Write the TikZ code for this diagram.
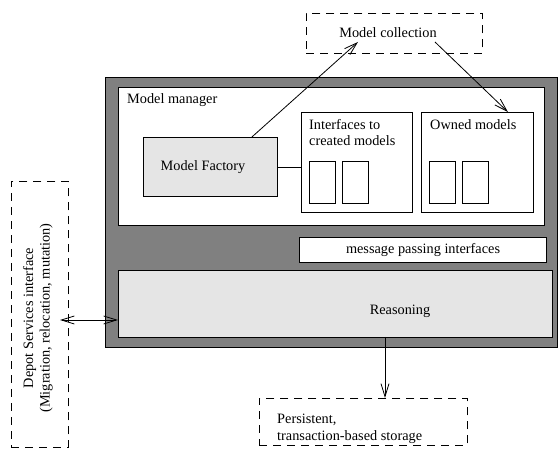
\documentclass[tikz,border=0pt]{standalone}
\usepackage{fontspec}
\setmainfont{Liberation Serif}
\usetikzlibrary{arrows.meta}
\definecolor{lightfill}{RGB}{229,229,229}

\begin{document}
\begin{tikzpicture}[x = 1pt, y = -1pt,
		font = \fontsize{14.3pt}{16.5pt}\selectfont,
		box/.style = {draw, line width = 1.1pt, inner sep = 0pt, anchor = north west},
		dashbox/.style = {draw, line width = 0.9pt, dash pattern = on 8pt off 6pt, inner sep = 0pt, anchor = north west},
		tag/.style = {anchor = north west, inner sep = 0pt, align = left},
		link/.style = {line width = 0.8pt, -{Straight Barb[length = 13pt, width = 8pt]}}]
		\useasboundingbox (0,0) rectangle (558,449);
		% model manager and its parts
		\node[box, fill = gray, minimum width = 452pt, minimum height = 270pt] (outer) at (105,77) {};
		\node[box, fill = white, minimum width = 426pt, minimum height = 138pt] (mgr) at (118,87) {};
		\node[tag] (mgrtext) at (127,93) {Model manager};
		\node[box, fill = lightfill, minimum width = 134pt, minimum height = 59pt] (factory) at (143,137) {};
		\node (factorytext) at (203,167) {Model Factory};
		\node[box, fill = white, minimum width = 111pt, minimum height = 100pt] (ifaces) at (301,112) {};
		\node[tag] (ifacestext) at (309,119) {Interfaces to\\created models};
		\node[box, fill = white, minimum width = 112pt, minimum height = 100pt] (owned) at (421,112) {};
		\node[tag] (ownedtext) at (430,119) {Owned models};
		\foreach \name/\x in {i1/309, i2/342, o1/429, o2/462}
			\node[box, minimum width = 26pt, minimum height = 42pt] (\name) at (\x,161) {};
		\node[box, fill = white, minimum width = 247pt, minimum height = 25pt] (msg) at (299,237) {message passing interfaces};
		\node[box, fill = lightfill, minimum width = 434pt, minimum height = 67pt] (reason) at (118,270) {};
		\node (reasontext) at (400,311) {Reasoning};
		% outside parts
		\node[dashbox, minimum width = 176pt, minimum height = 40pt] (coll) at (306,13) {};
		\node (colltext) at (388,33) {Model collection};
		\node[dashbox, minimum width = 208pt, minimum height = 47pt] (store) at (259,398) {};
		\node[tag] (storetext) at (277,414) {Persistent,\\transaction-based storage};
		\node[dashbox, minimum width = 57pt, minimum height = 266pt] (depot) at (11,181) {};
		\node[rotate = 90, align = center] (depottext) at (38,318) {Depot Services interface\\(Migration, relocation, mutation)};
		% connectors
		\coordinate (collin) at (358,42);
		\coordinate (collout) at (435,42);
		\coordinate (depotin) at (60,320);
		\coordinate (reasonout) at (385,337);
		\draw[link] (factory.36) -- (collin);
		\draw[link] (collout) -- (owned.59);
		\draw[line width = 0.8pt] (factory.east) -- (factory.east -| ifaces.west);
		\draw[line width = 0.8pt, {Straight Barb[length = 13pt, width = 8pt]}-{Straight Barb[length = 13pt, width = 8pt]}] (depotin) -- (depotin -| reason.west);
		\draw[link] (reasonout) -- (reasonout |- store.north);
	\end{tikzpicture}
\end{document}
